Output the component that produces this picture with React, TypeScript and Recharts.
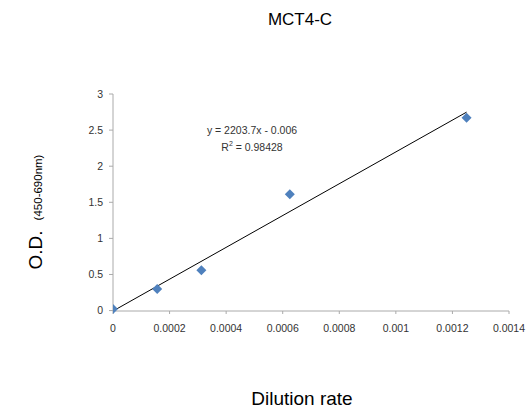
import React from 'react';
import {
  ComposedChart,
  Scatter,
  Line,
  XAxis,
  YAxis,
} from 'recharts';

const dilution = [0, 0.00015625, 0.0003125, 0.000625, 0.00125];
const od = [0.02, 0.3, 0.56, 1.61, 2.67];
const xTicks = [0, 0.0002, 0.0004, 0.0006, 0.0008, 0.001, 0.0012, 0.0014];
const yTicks = [0, 0.5, 1, 1.5, 2, 2.5, 3];
const slope = 2203.7;
const intercept = -0.006;

const points = dilution.map((x, i) => ({ x, y: od[i] }));
const trend = [dilution[0], dilution[dilution.length - 1]].map(x => ({ x, t: slope * x + intercept }));

const font = 'Liberation Sans, Arial, sans-serif';
const tickStyle = { fontSize: 10.5, fill: '#333', fontFamily: font };

// square diamond marker, like the spreadsheet one
const Diamond = (props: any) => {
  const { cx, cy } = props;
  const r = 5;
  return (
    <path
      d={`M${cx},${cy - r}L${cx + r},${cy}L${cx},${cy + r}L${cx - r},${cy}Z`}
      fill="#4F81BD"
    />
  );
};

export default function App() {
  return (
    <div style={{ position: 'absolute', left: 0, top: 0, width: 529, height: 413, background: '#fff', fontFamily: font }}>
      <ComposedChart
        width={529}
        height={413}
        margin={{ top: 94, right: 20, bottom: 82, left: 83 }}
      >
        <XAxis
          type="number"
          dataKey="x"
          domain={[0, 0.0014]}
          ticks={xTicks}
          tick={tickStyle}
          stroke="#aaa"
          tickSize={3}
          tickMargin={11}
          height={20}
          allowDataOverflow
        />
        <YAxis
          type="number"
          domain={[0, 3]}
          ticks={yTicks}
          tick={tickStyle}
          stroke="#aaa"
          tickSize={4}
          tickMargin={6}
          width={30}
        />
        <Line
          data={trend}
          dataKey="t"
          stroke="#000"
          strokeWidth={1}
          dot={false}
          isAnimationActive={false}
          legendType="none"
        />
        <Scatter
          data={points}
          dataKey="y"
          fill="#4F81BD"
          shape={<Diamond />}
          legendType="none"
          isAnimationActive={false}
        />
      </ComposedChart>

      <div style={{ position: 'absolute', left: 0, width: 600, top: 10, textAlign: 'center', fontSize: 17, color: '#000' }}>
        MCT4-C
      </div>
      <div style={{ position: 'absolute', left: 152, width: 200, top: 123, textAlign: 'center', fontSize: 10.5, color: '#333', lineHeight: '14px', fontFamily: font }}>
        <div>y = 2203.7x - 0.006</div>
        <div>R<sup style={{ fontSize: 7 }}>2</sup> = 0.98428</div>
      </div>
      <div style={{ position: 'absolute', left: 0, width: 604, top: 388, textAlign: 'center', fontSize: 19, color: '#000' }}>
        Dilution rate
      </div>
      <div
        style={{
          position: 'absolute',
          left: 36,
          top: 212,
          transform: 'translate(-50%, -50%) rotate(-90deg)',
          whiteSpace: 'nowrap',
          color: '#000',
        }}
      >
        <span style={{ fontSize: 19 }}>O.D.</span>
        <span style={{ fontSize: 11.5, marginLeft: 10 }}>(450-690nm)</span>
      </div>
    </div>
  );
}
